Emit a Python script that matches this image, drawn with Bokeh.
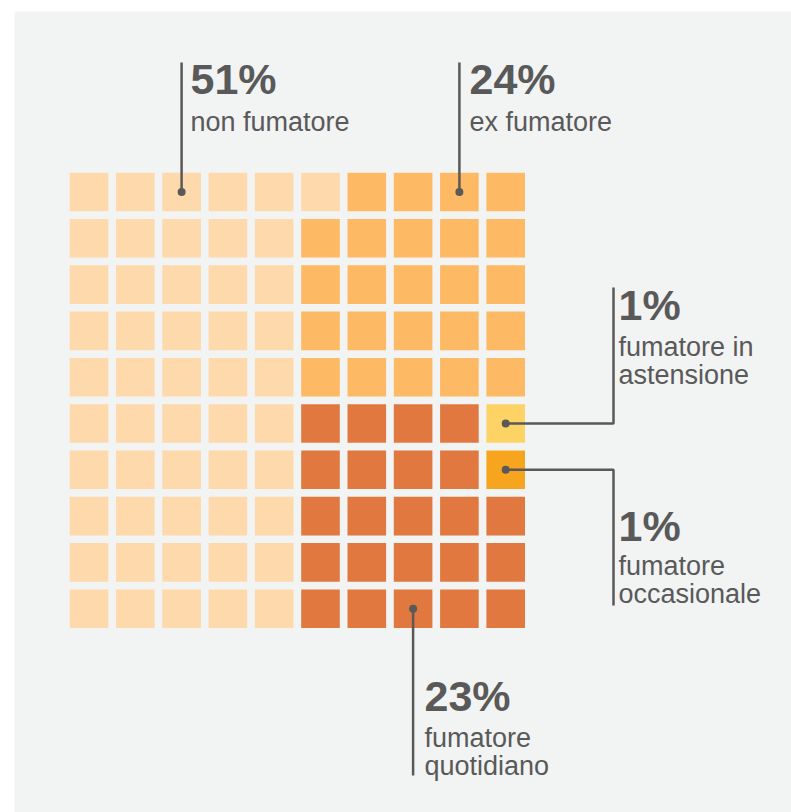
from bokeh.plotting import figure
from bokeh.models import Range1d, ColumnDataSource
from bokeh.core.properties import value
from bokeh.embed import file_html
from bokeh.resources import INLINE

# Smoking habits, share of population (%)
categories = ["non fumatore", "ex fumatore", "fumatore quotidiano",
              "fumatore occasionale", "fumatore in astensione"]
percent = [51, 24, 23, 1, 1]
label_lines = [["non fumatore"], ["ex fumatore"], ["fumatore", "quotidiano"],
               ["fumatore", "occasionale"], ["fumatore in", "astensione"]]
colors = ["#fdd9ac", "#fdb963", "#e07840", "#f7a51e", "#fed365"]

N = 10  # 10 x 10 waffle, one cell per percent

# Fill order: left half column by column, then upper right block,
# then lower right block filled from the bottom up.
slots = [(c, r) for c in range(0, 5) for r in range(N)]
slots += [(c, r) for c in range(5, N) for r in range(0, 5)]
slots += [(c, r) for c in range(5, N) for r in range(N - 1, 4, -1)]

cx, cy, cc = [], [], []
k = 0
for cat_i, n in enumerate(percent):
    for _ in range(n):
        c, r = slots[k]
        cx.append(c)
        cy.append(r)
        cc.append(colors[cat_i])
        k += 1

# Plot area geometry (pixels) -> grid units
PITCH = 46.3
X0, Y0 = 88.5, 191.5       # page position of the centre of cell (0, 0)
LEFT, TOP = 14, 11         # white margin around the grey panel
W, H = 791, 812


def ux(px):
    return (px - X0) / PITCH


def uy(py):
    return (py - Y0) / PITCH


p = figure(width=W, height=H, output_backend="svg", toolbar_location=None,
           x_axis_type=None, y_axis_type=None,
           min_border_left=LEFT, min_border_top=TOP,
           min_border_right=0, min_border_bottom=0,
           background_fill_color="#f2f3f3", border_fill_color="white",
           outline_line_color=None)
p.x_range = Range1d(ux(LEFT), ux(W))
p.y_range = Range1d(uy(H), uy(TOP))
p.grid.visible = False

src = ColumnDataSource(dict(x=cx, y=cy, color=cc))
CELL = 38.6 / PITCH
p.rect(x="x", y="y", width=CELL, height=CELL, source=src,
       fill_color="color", line_color=None)

# Leader lines: anchor cell of each category and the path to its label
anchor = {"non fumatore": (2, 0), "ex fumatore": (8, 0),
          "fumatore quotidiano": (7, 9), "fumatore occasionale": (9, 6),
          "fumatore in astensione": (9, 5)}
elbow_x = ux(613)
paths = {
    "non fumatore": ([2, 2], [0, uy(62)]),
    "ex fumatore": ([8, 8], [0, uy(62)]),
    "fumatore quotidiano": ([7, 7], [9, uy(775)]),
    "fumatore in astensione": ([9, elbow_x, elbow_x], [5, 5, uy(287)]),
    "fumatore occasionale": ([9, elbow_x, elbow_x], [6, 6, uy(605)]),
}
text_pos = {  # left x, baseline of percentage, baseline of first label line
    "non fumatore": (190, 78, 121),
    "ex fumatore": (469, 78, 121),
    "fumatore quotidiano": (424, 695, 737),
    "fumatore in astensione": (618, 304, 346),
    "fumatore occasionale": (618, 525, 565),
}
LINE_GAP = 28
INK = "#595959"

xs = [paths[c][0] for c in categories]
ys = [paths[c][1] for c in categories]
p.multi_line(xs=xs, ys=ys, line_color=INK, line_width=2.5)
p.scatter(x=[anchor[c][0] for c in categories],
          y=[anchor[c][1] for c in categories],
          size=8, marker="circle", fill_color=INK, line_color=None)

px_, py_, pt = [], [], []
lx, ly, lt = [], [], []
for c, v, lines in zip(categories, percent, label_lines):
    tx, pb, lb = text_pos[c]
    px_.append(ux(tx))
    py_.append(uy(pb))
    pt.append(f"{v}%")
    for j, s in enumerate(lines):
        lx.append(ux(tx))
        ly.append(uy(lb + j * LINE_GAP))
        lt.append(s)

p.text(x=px_, y=py_, text=pt, text_font=value("Liberation Sans"),
       text_font_style="bold", text_font_size="43px", text_color=INK,
       text_baseline="alphabetic", text_align="left")
p.text(x=lx, y=ly, text=lt, text_font=value("Liberation Sans"),
       text_font_size="27px", text_color=INK,
       text_baseline="alphabetic", text_align="left")

open("out.html", "w").write(file_html(p, INLINE))
